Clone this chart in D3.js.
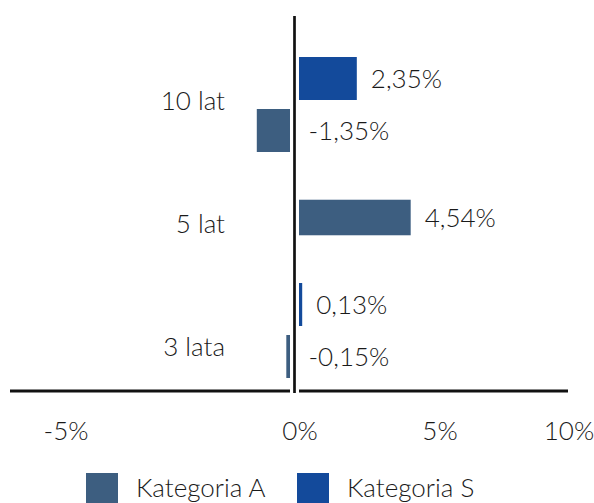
<!DOCTYPE html>
<html>
<head>
<meta charset="utf-8">
<script src="https://cdn.jsdelivr.net/npm/d3@7"></script>
<style>
  html, body { margin: 0; padding: 0; background: #fff; }
  svg { display: block; }
  text { font-family: Lato, "Noto Sans", sans-serif; font-weight: 300; fill: #1a1a1a; }
</style>
</head>
<body>
<svg id="chart" width="594" height="503"></svg>
<script>
// ---- data ----
const categories = ["10 lat", "5 lat", "3 lata"];
const seriesNames = ["Kategoria S", "Kategoria A"];
const seriesKeys = ["S", "A"];
const valuesS = [2.35, null, 0.13];
const valuesA = [-1.35, 4.54, -0.15];
const tickValues = [-5, 0, 5, 10];
const tickLabels = ["-5%", "0%", "5%", "10%"];
const legendOrder = ["A", "S"];
const legendLabels = { A: "Kategoria A", S: "Kategoria S" };

// ---- style ----
const colors = { A: "#3d5e80", S: "#134a9b" };
const fontSize = 26;

const svg = d3.select("#chart");

// value scale
const k = 24.6;
const x0 = 294.5;
const x = d3.scaleLinear().domain([-5, 10]).range([x0 - 5 * k, x0 + 10 * k]);
const gap = 4.5; // white gap between bars and zero line

// category scale (group centers)
const y = d3.scalePoint().domain(categories).range([104.5, 330.5]);
// category label positions
const yLabel = d3.scalePoint().domain(categories).range([100, 346]);

const barH = 43, innerGap = 9;

// build rows
const rows = [];
categories.forEach((c, i) => {
  const present = [];
  if (valuesS[i] !== null) present.push({ key: "S", v: valuesS[i] });
  if (valuesA[i] !== null) present.push({ key: "A", v: valuesA[i] });
  const total = present.length * barH + (present.length - 1) * innerGap;
  const sub = d3.scaleBand()
    .domain(present.map(d => d.key))
    .range([-total / 2, total / 2])
    .paddingInner(innerGap / (barH + innerGap))
    .paddingOuter(0);
  present.forEach(d => {
    rows.push({ cat: c, key: d.key, v: d.v, y: y(c) + sub(d.key), h: sub.bandwidth() });
  });
});

// bars
svg.append("g").selectAll("rect").data(rows).join("rect")
  .attr("x", d => d.v >= 0 ? x(0) + gap : x(d.v) - gap)
  .attr("y", d => d.y)
  .attr("width", d => Math.abs(x(d.v) - x(0)))
  .attr("height", d => d.h)
  .attr("fill", d => colors[d.key]);

// value labels
const fmt = v => d3.format(".2f")(v).replace("\u2212", "-").replace(".", ",") + "%";
svg.append("g").selectAll("text").data(rows).join("text")
  .attr("x", d => d.v >= 0 ? x(d.v) + gap + 14 : x(0) + 14)
  .attr("y", d => d.y + d.h / 2 + 9)
  .attr("font-size", fontSize)
  .text(d => fmt(d.v));

// category labels
svg.append("g").selectAll("text").data(categories).join("text")
  .attr("x", 225)
  .attr("y", d => yLabel(d) + 10)
  .attr("text-anchor", "end")
  .attr("font-size", fontSize)
  .text(d => d);

// axes lines
const axisY = 391;
svg.append("line")
  .attr("x1", x(0)).attr("x2", x(0))
  .attr("y1", 16).attr("y2", 393)
  .attr("stroke", "#111").attr("stroke-width", 2.7);
svg.append("line")
  .attr("x1", 10).attr("x2", x(0) - gap)
  .attr("y1", axisY).attr("y2", axisY)
  .attr("stroke", "#111").attr("stroke-width", 3);
svg.append("line")
  .attr("x1", x(0) + gap).attr("x2", 568)
  .attr("y1", axisY).attr("y2", axisY)
  .attr("stroke", "#111").attr("stroke-width", 3);

// tick labels (placed as in the reference, which spreads them unevenly)
const tickPos = d3.scaleLinear().domain(tickValues).range([66, 300, 440, 569]);
svg.append("g").selectAll("text").data(tickValues).join("text")
  .attr("x", d => tickPos(d))
  .attr("y", 440)
  .attr("text-anchor", "middle")
  .attr("font-size", fontSize)
  .text((d, i) => tickLabels[i]);

// legend
const legX = d3.scalePoint().domain(legendOrder).range([86, 297]);
const leg = svg.append("g").selectAll("g").data(legendOrder).join("g")
  .attr("transform", d => `translate(${legX(d)},0)`);
leg.append("rect")
  .attr("x", 0).attr("y", 473).attr("width", 32).attr("height", 32)
  .attr("fill", d => colors[d]);
leg.append("text")
  .attr("x", 50).attr("y", 497)
  .attr("font-size", fontSize)
  .text(d => legendLabels[d]);
</script>
</body>
</html>
